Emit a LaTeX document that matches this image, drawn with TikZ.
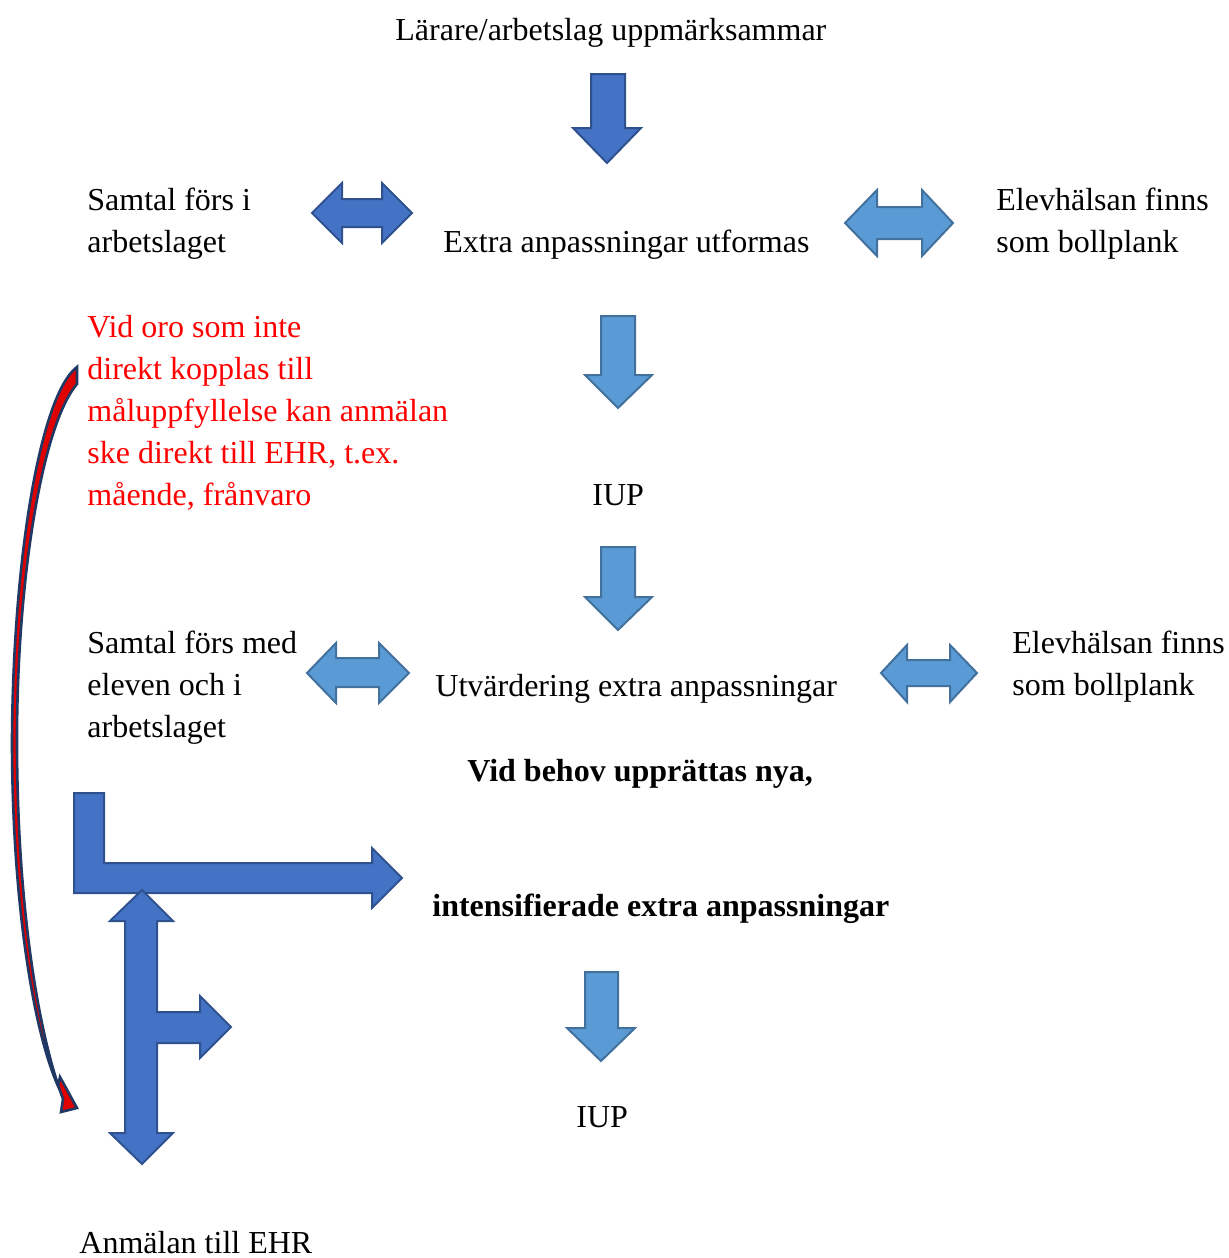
\documentclass[tikz,border=0pt]{standalone}
\usepackage{fontspec}
\setmainfont{Liberation Serif}
\definecolor{dkfill}{HTML}{4472C4}
\definecolor{dkline}{HTML}{2F528F}
\definecolor{ltfill}{HTML}{5B9BD5}
\definecolor{ltline}{HTML}{41719C}
\definecolor{navy}{HTML}{1F3864}
\definecolor{redfill}{HTML}{E00000}
\begin{document}
\begin{tikzpicture}[x=0.5pt,y=-0.5pt,
  dk/.style={fill=dkfill,draw=dkline,line width=1pt,line join=miter},
  lt/.style={fill=ltfill,draw=ltline,line width=1pt,line join=miter},
  txt/.style={anchor=base west,inner sep=0pt,font=\fontsize{16}{21}\selectfont},
  redtxt/.style={txt,text=red},
  boldtxt/.style={txt,font=\fontsize{16}{21}\selectfont\bfseries}]
\useasboundingbox (0,0) rectangle (1229,1258);

% texts
\node[txt] (t1) at (395,40) {Lärare/arbetslag uppmärksammar};
\node[txt] (s1a) at (87,210) {Samtal förs i};
\node[txt] (s1b) at (87,252) {arbetslaget};
\node[txt] (ea) at (443,252) {Extra anpassningar utformas};
\node[txt] (e1a) at (996,210) {Elevhälsan finns};
\node[txt] (e1b) at (996,252) {som bollplank};
\node[redtxt] (r1) at (87,337) {Vid oro som inte};
\node[redtxt] (r2) at (87,379) {direkt kopplas till};
\node[redtxt] (r3) at (87,421) {måluppfyllelse kan anmälan};
\node[redtxt] (r4) at (87,463) {ske direkt till EHR, t.ex.};
\node[redtxt] (r5) at (87,505) {mående, frånvaro};
\node[txt] (iup1) at (592,505) {IUP};
\node[txt] (s2a) at (87,653) {Samtal förs med};
\node[txt] (s2b) at (87,695) {eleven och i};
\node[txt] (s2c) at (87,737) {arbetslaget};
\node[txt] (utv) at (435,696) {Utvärdering extra anpassningar};
\node[txt] (e2a) at (1012,653) {Elevhälsan finns};
\node[txt] (e2b) at (1012,695) {som bollplank};
\node[boldtxt] (vb) at (467,781) {Vid behov upprättas nya,};
\node[boldtxt] (int) at (432,916) {intensifierade extra anpassningar};
\node[txt] (iup2) at (576,1127) {IUP};
\node[txt] (anm) at (79,1253) {Anmälan till EHR};

% block arrows
\draw[dk] (591,74)--(625,74)--(625,128)--(641,128)--(607,163)--(573,128)--(591,128)--cycle;
\draw[dk] (312,213)--(342,183)--(342,199)--(382,199)--(382,183)--(412,213)--(382,243)--(382,227)--(342,227)--(342,243)--cycle;
\draw[lt] (845,223)--(877,190)--(877,207)--(922,207)--(922,190)--(953,223)--(922,256)--(922,239)--(877,239)--(877,256)--cycle;
\draw[lt] (601,316)--(635,316)--(635,375)--(652,375)--(618,408)--(585,375)--(601,375)--cycle;
\draw[lt] (601,547)--(635,547)--(635,597)--(652,597)--(618,630)--(585,597)--(601,597)--cycle;
\draw[lt] (307,673)--(336,643)--(336,658)--(379,658)--(379,643)--(409,673)--(379,703)--(379,687)--(336,687)--(336,703)--cycle;
\draw[lt] (881,673)--(907,645)--(907,660)--(950,660)--(950,645)--(977,673)--(950,702)--(950,686)--(907,686)--(907,702)--cycle;
\draw[lt] (585,972)--(618,972)--(618,1028)--(635,1028)--(601,1061)--(567,1028)--(585,1028)--cycle;
\draw[dk] (74,793)--(104,793)--(104,863)--(372,863)--(372,848)--(402,878)--(372,908)--(372,893)--(74,893)--cycle;
\draw[dk] (142,890)--(173,921)--(157,921)--(157,1012)--(200,1012)--(200,996)--(231,1027)--(200,1058)--(200,1043)--(157,1043)--(157,1133)--(173,1133)--(142,1164)--(110,1133)--(125,1133)--(125,921)--(110,921)--cycle;

% red curved arrow
\draw[fill=redfill,draw=navy,line width=1.3pt,line join=miter]
  (77,367) .. controls (40,395) and (13,560) .. (12,740)
  .. controls (12,900) and (33,1030) .. (58,1086)
  -- (60,1077) -- (77,1108) -- (61,1112) -- (63,1099)
  .. controls (37,1030) and (17,900) .. (17,740)
  .. controls (17,580) and (42,425) .. (77,384) -- cycle;
\end{tikzpicture}
\end{document}
